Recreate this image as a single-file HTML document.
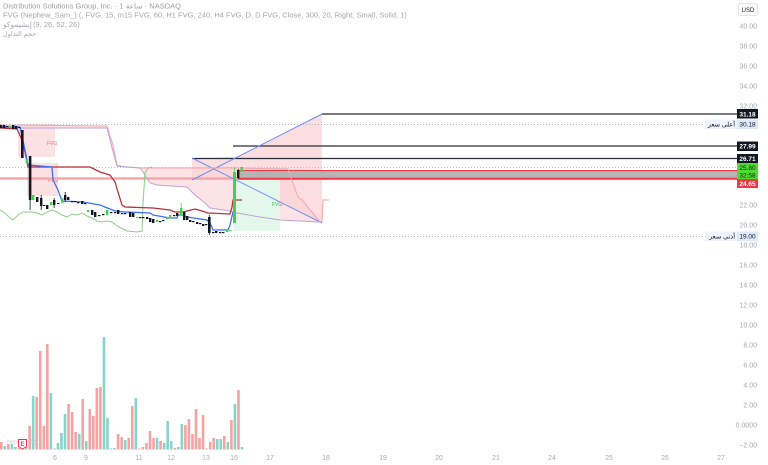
<!DOCTYPE html>
<html><head><meta charset="utf-8"><style>
html,body{margin:0;padding:0;background:#fff;}
body{width:768px;height:465px;overflow:hidden;}
svg{display:block;font-family:"Liberation Sans","Noto Sans CJK SC",sans-serif;}
</style></head><body>
<svg width="768" height="465" viewBox="0 0 768 465" xmlns="http://www.w3.org/2000/svg">
<rect width="768" height="465" fill="#fff"/>

<!-- Ichimoku cloud fill -->
<polygon fill="#fce4e6" points="0,125 107,126 113,145 117,165 125,167 140,168 237,168 288,169 291,178 298,197 302,200 320,222 322,222 323,200 329,200 322,201 318,222 300,221 280,220 260,217 237,213 230,211 210,208 205,203 195,195 187,187 157,185 150,183 143,172 140,168 117,166 112,148 107,128 0,128"/>

<!-- FVG boxes left -->
<rect x="18" y="124" width="37" height="33" fill="#fbd9dc" opacity="0.8"/>
<text x="47" y="145" font-size="5" fill="#e57373">FVG</text>
<rect x="27" y="163" width="31" height="33" fill="#fbd9dc" opacity="0.8"/>
<text x="48" y="182" font-size="5" fill="#e57373">FVG</text>

<!-- pink triangle/rect area -->
<polygon fill="#fbd3d6" opacity="0.75" points="192,158 237,157 322,114 322,223 237,180.5 192,180"/>
<!-- green FVG -->
<rect x="233" y="180" width="47" height="51" fill="#e3f8ea"/>
<text x="272" y="206" font-size="5" fill="#4caf50">FVG</text>

<!-- dotted high/low lines -->
<line x1="0" y1="124.5" x2="705" y2="124.5" stroke="#b2b5be" stroke-width="1" stroke-dasharray="1,2"/>
<line x1="0" y1="236.5" x2="705" y2="236.5" stroke="#b2b5be" stroke-width="1" stroke-dasharray="1,2"/>

<!-- current price dotted -->
<line x1="0" y1="167.5" x2="737" y2="167.5" stroke="#8fe08a" stroke-width="1" stroke-dasharray="1,2"/>

<!-- pink horizontal line -->
<line x1="0" y1="178.5" x2="238" y2="178.5" stroke="#f6a7ab" stroke-width="2.5"/>
<!-- gray box -->
<rect x="238" y="170" width="499" height="8" fill="#b5b5b5"/>
<line x1="238" y1="170.5" x2="737" y2="170.5" stroke="#f23645" stroke-width="1"/>
<line x1="238" y1="178.8" x2="737" y2="178.8" stroke="#f23645" stroke-width="2"/>

<!-- horizontal level lines -->
<line x1="322" y1="114" x2="737" y2="114" stroke="#2a2e39" stroke-width="1.3"/>
<line x1="233" y1="146" x2="737" y2="146" stroke="#2a2e39" stroke-width="1.3"/>
<line x1="192" y1="158.5" x2="737" y2="158.5" stroke="#2a2e39" stroke-width="1.3"/>

<!-- X blue lines -->
<line x1="192" y1="158" x2="322" y2="223" stroke="#6f8ff2" stroke-width="1"/>
<line x1="192" y1="180" x2="322" y2="114" stroke="#6f8ff2" stroke-width="1"/>

<!-- cloud lines -->
<polyline fill="none" stroke="#f3a5ad" stroke-width="1" points="0,125 107,126 113,145 117,165 125,167 140,168 237,168 288,169 291,178 298,197 302,200 320,222 322,222 323,200 329,200"/>
<polyline fill="none" stroke="#bba4d8" stroke-width="1" points="0,128 107,128 112,148 117,166 140,168 143,172 150,183 157,185 187,187 195,195 205,203 210,208 230,211 237,213 260,217 280,220 300,221 318,222 322,222"/>

<!-- Chikou -->
<polyline fill="none" stroke="#8fca8a" stroke-width="1" points="0,210 5,213 10,218 13,220 18,215 23,212 32,212 37,213 42,215 47,212 52,210 57,212 62,215 67,217 72,214 77,215 82,213 87,216 92,218 97,221 102,222 107,221 112,222 117,226 127,231 137,232 142,231 143,203 145,173 148,168 152,167"/>

<!-- Kijun red -->
<polyline fill="none" stroke="#b8323a" stroke-width="1.3" points="0,128 17,129 22,140 25,152 28,167 90,167 100,172 110,175 115,182 118,192 122,205 125,207 153,208 170,210 175,212 183,212 195,209 202,211 208,213 230,214 232,207 233,200 242,200"/>
<!-- Tenkan blue -->
<polyline fill="none" stroke="#3d6ff2" stroke-width="1.3" points="0,127 20,127 25,150 28,165 52,167 53,180 58,190 62,201 83,202 100,205 110,209 115,211 125,212 150,213 153,215 170,218 177,218 178,215 183,215 187,217 207,220 210,223 213,230 228,230 230,225 233,212"/>

<!-- candles -->
<g fill="#131722">
<rect x="0" y="125" width="2.4" height="3"/><rect x="3" y="125" width="2.4" height="3"/><rect x="6" y="126" width="2.4" height="1"/>
<rect x="12" y="125" width="2.4" height="4"/><rect x="15" y="126" width="2.4" height="3"/><rect x="18" y="127" width="2.4" height="1"/>
<rect x="21" y="130" width="2.6" height="28"/>
<rect x="28.8" y="156" width="2.6" height="44"/><rect x="29.7" y="200" width="0.8" height="10"/>
<rect x="36" y="197" width="2.4" height="5"/>
<rect x="40" y="198" width="2.4" height="8"/><rect x="40.8" y="195" width="0.8" height="15"/>
<rect x="43" y="205" width="2.4" height="1"/>
<rect x="46" y="205" width="2.4" height="4"/>
<rect x="53" y="200" width="2.4" height="5"/><rect x="53.8" y="198" width="0.8" height="10"/>
<rect x="57" y="203" width="2.4" height="1"/>
<rect x="64" y="195" width="2.4" height="5"/><rect x="64.8" y="192" width="0.8" height="10"/>
<rect x="67" y="197" width="2.4" height="3"/>
<rect x="71" y="201" width="2.4" height="1.2"/><rect x="74" y="201" width="2.4" height="1.2"/><rect x="77" y="202" width="2.4" height="1.2"/>
<rect x="81" y="201" width="2.4" height="3"/><rect x="84" y="203" width="2.4" height="1.2"/>
<rect x="91" y="210" width="2.4" height="5"/><rect x="94" y="212" width="2.4" height="5"/>
<rect x="98" y="215" width="2.4" height="1.2"/><rect x="102" y="214" width="2.4" height="1.2"/>
<rect x="110" y="212" width="2.4" height="1.2"/><rect x="114" y="212" width="2.4" height="1.2"/>
<rect x="117" y="210" width="2.4" height="4"/><rect x="121" y="213" width="2.4" height="1.2"/><rect x="124" y="213" width="2.4" height="1.2"/>
<rect x="129" y="212" width="2.4" height="5"/><rect x="132" y="213" width="2.4" height="4"/>
<rect x="139" y="217" width="2.4" height="1.2"/><rect x="142" y="217" width="2.4" height="1.2"/>
<rect x="146" y="217" width="2.4" height="2"/><rect x="149" y="218" width="2.4" height="4"/><rect x="152" y="219" width="2.4" height="4"/>
<rect x="159" y="221" width="2.4" height="1.2"/><rect x="162" y="220" width="2.4" height="1.2"/>
<rect x="173" y="215" width="2.4" height="1.2"/><rect x="176" y="213" width="2.4" height="3"/>
<rect x="183" y="212" width="2.4" height="8"/><rect x="186" y="216" width="2.4" height="4"/><rect x="189" y="220" width="2.4" height="2"/>
<rect x="192" y="221" width="2.4" height="1.2"/><rect x="196" y="222" width="2.4" height="2"/><rect x="199" y="223" width="2.4" height="1.2"/>
<rect x="202" y="224" width="2.4" height="2"/><rect x="205" y="224" width="2.4" height="1.2"/>
<rect x="208" y="217" width="2.6" height="16"/><rect x="208.9" y="215" width="0.8" height="20"/>
<rect x="212" y="232" width="2.4" height="1.2"/><rect x="215" y="231" width="2.4" height="2"/><rect x="219" y="232" width="2.4" height="1.2"/><rect x="222" y="232" width="2.4" height="1.2"/>
<rect x="237" y="170" width="2.4" height="8"/><rect x="237.8" y="169" width="0.8" height="10"/>
</g>
<g fill="#43d14f">
<rect x="9" y="126" width="2.4" height="2"/>
<rect x="25.5" y="159" width="2.4" height="4"/>
<rect x="32" y="195" width="2.4" height="5"/>
<rect x="50" y="202" width="2.4" height="3"/>
<rect x="61" y="198" width="2.4" height="5"/>
<rect x="87" y="210" width="2.4" height="2"/>
<rect x="106" y="210" width="2.4" height="5"/>
<rect x="136" y="217" width="2.4" height="1.2"/>
<rect x="156" y="220" width="2.4" height="2"/>
<rect x="166" y="217" width="2.4" height="2"/>
<rect x="169" y="215" width="2.4" height="2"/>
<rect x="180" y="208" width="2.4" height="7"/><rect x="180.8" y="203" width="0.8" height="6"/>
<rect x="226" y="230" width="2.4" height="2"/>
<rect x="229" y="230" width="2.4" height="1.2"/>
<rect x="233" y="172" width="3" height="51"/><rect x="234.1" y="167" width="0.8" height="6"/>
<rect x="240.5" y="167" width="2.4" height="5"/>
</g>

<!-- volume bars -->
<g>
<rect x="0" y="442" width="2.6" height="7.5" fill="#f5a3a3"/>
<rect x="3.54" y="446" width="2.6" height="3.5" fill="#8ad3c8"/>
<rect x="7.08" y="444" width="2.6" height="5.5" fill="#f5a3a3"/>
<rect x="10.62" y="444" width="2.6" height="5.5" fill="#8ad3c8"/>
<rect x="14.16" y="447" width="2.6" height="2.5" fill="#8ad3c8"/>
<rect x="17.7" y="448" width="2.6" height="1.5" fill="#f5a3a3"/>
<rect x="21.24" y="448" width="2.6" height="1.5" fill="#f5a3a3"/>
<rect x="24.78" y="447" width="2.6" height="2.5" fill="#8ad3c8"/>
<rect x="28.32" y="426" width="2.6" height="23.5" fill="#f5a3a3"/>
<rect x="31.86" y="396" width="2.6" height="53.5" fill="#8ad3c8"/>
<rect x="35.4" y="397" width="2.6" height="52.5" fill="#f5a3a3"/>
<rect x="38.94" y="351" width="2.6" height="98.5" fill="#f5a3a3"/>
<rect x="42.48" y="426" width="2.6" height="23.5" fill="#f5a3a3"/>
<rect x="46.02" y="344" width="2.6" height="105.5" fill="#f5a3a3"/>
<rect x="49.56" y="393" width="2.6" height="56.5" fill="#8ad3c8"/>
<rect x="53.1" y="448.5" width="2.6" height="1" fill="#f5a3a3"/>
<rect x="56.64" y="443" width="2.6" height="6.5" fill="#8ad3c8"/>
<rect x="60.18" y="433" width="2.6" height="16.5" fill="#8ad3c8"/>
<rect x="63.72" y="414" width="2.6" height="35.5" fill="#8ad3c8"/>
<rect x="67.26" y="404" width="2.6" height="45.5" fill="#f5a3a3"/>
<rect x="70.8" y="412" width="2.6" height="37.5" fill="#f5a3a3"/>
<rect x="74.34" y="432" width="2.6" height="17.5" fill="#f5a3a3"/>
<rect x="77.88" y="434" width="2.6" height="15.5" fill="#8ad3c8"/>
<rect x="81.42" y="399" width="2.6" height="50.5" fill="#f5a3a3"/>
<rect x="84.96" y="441" width="2.6" height="8.5" fill="#8ad3c8"/>
<rect x="88.5" y="409" width="2.6" height="40.5" fill="#f5a3a3"/>
<rect x="92.04" y="416" width="2.6" height="33.5" fill="#f5a3a3"/>
<rect x="95.58" y="388" width="2.6" height="61.5" fill="#f5a3a3"/>
<rect x="99.12" y="387" width="2.6" height="62.5" fill="#f5a3a3"/>
<rect x="102.66" y="337" width="2.6" height="112.5" fill="#8ad3c8"/>
<rect x="106.2" y="418" width="2.6" height="31.5" fill="#8ad3c8"/>
<rect x="109.74" y="448.5" width="2.6" height="1" fill="#8ad3c8"/>
<rect x="113.28" y="448" width="2.6" height="1.5" fill="#8ad3c8"/>
<rect x="116.82" y="434" width="2.6" height="15.5" fill="#f5a3a3"/>
<rect x="120.36" y="437" width="2.6" height="12.5" fill="#f5a3a3"/>
<rect x="123.9" y="440" width="2.6" height="9.5" fill="#8ad3c8"/>
<rect x="127.44" y="438" width="2.6" height="11.5" fill="#f5a3a3"/>
<rect x="130.98" y="406" width="2.6" height="43.5" fill="#f5a3a3"/>
<rect x="134.52" y="398" width="2.6" height="51.5" fill="#8ad3c8"/>
<rect x="138.06" y="448.5" width="2.6" height="1" fill="#f5a3a3"/>
<rect x="141.6" y="447" width="2.6" height="2.5" fill="#f5a3a3"/>
<rect x="145.14" y="443" width="2.6" height="6.5" fill="#f5a3a3"/>
<rect x="148.68" y="431" width="2.6" height="18.5" fill="#f5a3a3"/>
<rect x="152.22" y="438" width="2.6" height="11.5" fill="#f5a3a3"/>
<rect x="155.76" y="438" width="2.6" height="11.5" fill="#8ad3c8"/>
<rect x="159.3" y="441" width="2.6" height="8.5" fill="#f5a3a3"/>
<rect x="162.84" y="443" width="2.6" height="6.5" fill="#8ad3c8"/>
<rect x="166.38" y="421" width="2.6" height="28.5" fill="#8ad3c8"/>
<rect x="169.92" y="441" width="2.6" height="8.5" fill="#8ad3c8"/>
<rect x="173.46" y="448" width="2.6" height="1.5" fill="#f5a3a3"/>
<rect x="177" y="447" width="2.6" height="2.5" fill="#8ad3c8"/>
<rect x="180.54" y="424" width="2.6" height="25.5" fill="#8ad3c8"/>
<rect x="184.08" y="425" width="2.6" height="24.5" fill="#f5a3a3"/>
<rect x="187.62" y="419" width="2.6" height="30.5" fill="#f5a3a3"/>
<rect x="191.16" y="434" width="2.6" height="15.5" fill="#f5a3a3"/>
<rect x="194.7" y="409" width="2.6" height="40.5" fill="#f5a3a3"/>
<rect x="198.24" y="438" width="2.6" height="11.5" fill="#f5a3a3"/>
<rect x="201.78" y="415" width="2.6" height="34.5" fill="#f5a3a3"/>
<rect x="205.32" y="448.5" width="2.6" height="1" fill="#f5a3a3"/>
<rect x="208.86" y="442" width="2.6" height="7.5" fill="#f5a3a3"/>
<rect x="212.4" y="438" width="2.6" height="11.5" fill="#f5a3a3"/>
<rect x="215.94" y="439" width="2.6" height="10.5" fill="#8ad3c8"/>
<rect x="219.48" y="439" width="2.6" height="10.5" fill="#8ad3c8"/>
<rect x="223.02" y="436" width="2.6" height="13.5" fill="#f5a3a3"/>
<rect x="226.56" y="442" width="2.6" height="7.5" fill="#8ad3c8"/>
<rect x="230.1" y="420" width="2.6" height="29.5" fill="#f5a3a3"/>
<rect x="233.64" y="404" width="2.6" height="45.5" fill="#8ad3c8"/>
<rect x="237.18" y="390" width="2.6" height="59.5" fill="#f5a3a3"/>
<rect x="240.72" y="447" width="2.6" height="2.5" fill="#8ad3c8"/>
</g>
<text x="7" y="443.5" font-size="5.5" fill="#c4c6cc">Nephew_Sam</text>
<path d="M18.5,439.5 h8 v7 l-4,2.5 l-4,-2.5 z" fill="#fff" stroke="#f23645" stroke-width="1"/>
<text x="22.5" y="446" font-size="6" fill="#f23645" text-anchor="middle" font-weight="bold">E</text>

<!-- header -->
<g font-size="7.5" fill="#a3a6ae">
<text x="3" y="8.5" fill="#9a9da5">Distribution Solutions Group, Inc. · 1 ساعة · NASDAQ</text>
<text x="3" y="17.5">FVG (Nephew_Sam_) (, FVG, 15, m15 FVG, 60, H1 FVG, 240, H4 FVG, D, D FVG, Close, 300, 20, Right, Small, Solid, 1)</text>
<text x="3" y="27">إيشيموكو</text>
<text x="33" y="27">(9, 26, 52, 26)</text>
<text x="3" y="36" font-size="6.5">حجم التداول</text>
</g>

<!-- USD box -->
<rect x="738.5" y="3.5" width="19" height="12" rx="2" fill="#fff" stroke="#e0e3eb"/>
<text x="748" y="11.8" font-size="6" fill="#131722" text-anchor="middle">USD</text>

<!-- price axis labels -->
<g font-size="7" fill="#a8abb3" text-anchor="end">
<text x="757" y="28.5">40.00</text>
<text x="757" y="48.5">38.00</text>
<text x="757" y="68.5">36.00</text>
<text x="757" y="88.5">34.00</text>
<text x="757" y="108.5">32.00</text>
<text x="757" y="207.5">22.00</text>
<text x="757" y="227.5">20.00</text>
<text x="757" y="247.5">18.00</text>
<text x="757" y="267.5">16.00</text>
<text x="757" y="287.5">14.00</text>
<text x="757" y="307.5">12.00</text>
<text x="757" y="327.5">10.00</text>
<text x="757" y="347.5">8.00</text>
<text x="757" y="367.5">6.00</text>
<text x="757" y="387.5">4.00</text>
<text x="757" y="407.5">2.00</text>
<text x="757" y="427.5">0.0000</text>
<text x="757" y="447.5">−2.00</text>
</g>

<!-- price tags -->
<rect x="737" y="109" width="21" height="9.5" fill="#131722"/>
<text x="747.5" y="116.3" font-size="6.5" fill="#fff" text-anchor="middle" font-weight="bold">31.18</text>
<rect x="705" y="119.5" width="32" height="9.5" fill="#eef4fd"/>
<text x="735" y="126.7" font-size="6.5" fill="#131722" text-anchor="end">أعلى سعر</text>
<rect x="737" y="119.5" width="21" height="9.5" fill="#dde9fb"/>
<text x="747.5" y="126.7" font-size="6.5" fill="#131722" text-anchor="middle">30.18</text>
<rect x="737" y="141.5" width="21" height="9.5" fill="#131722"/>
<text x="747.5" y="148.7" font-size="6.5" fill="#fff" text-anchor="middle" font-weight="bold">27.99</text>
<rect x="737" y="154" width="21" height="9" fill="#131722"/>
<text x="747.5" y="161" font-size="6.5" fill="#fff" text-anchor="middle" font-weight="bold">26.71</text>
<rect x="737" y="163" width="21" height="16" fill="#4fdc2e"/>
<text x="747.5" y="170" font-size="6.5" fill="#131722" text-anchor="middle">25.80</text>
<text x="747.5" y="177.5" font-size="6.5" fill="#131722" text-anchor="middle">32:58</text>
<rect x="737" y="179" width="21" height="9" fill="#f23645"/>
<text x="747.5" y="186" font-size="6.5" fill="#fff" text-anchor="middle" font-weight="bold">24.65</text>
<rect x="705" y="231.5" width="32" height="9.5" fill="#eef4fd"/>
<text x="735" y="238.7" font-size="6.5" fill="#131722" text-anchor="end">أدنى سعر</text>
<rect x="737" y="231.5" width="21" height="9.5" fill="#dde9fb"/>
<text x="747.5" y="238.7" font-size="6.5" fill="#131722" text-anchor="middle">19.00</text>

<!-- time axis -->
<g font-size="7" fill="#a8abb3" text-anchor="middle">
<text x="55" y="460">6</text>
<text x="86" y="460">9</text>
<text x="139" y="460">11</text>
<text x="171" y="460">12</text>
<text x="206" y="460">13</text>
<text x="234" y="460">16</text>
<text x="270" y="460">17</text>
<text x="326" y="460">18</text>
<text x="383" y="460">19</text>
<text x="439" y="460">20</text>
<text x="496" y="460">21</text>
<text x="552" y="460">24</text>
<text x="609" y="460">25</text>
<text x="665" y="460">26</text>
<text x="721" y="460">27</text>
</g>
</svg>
</body></html>
